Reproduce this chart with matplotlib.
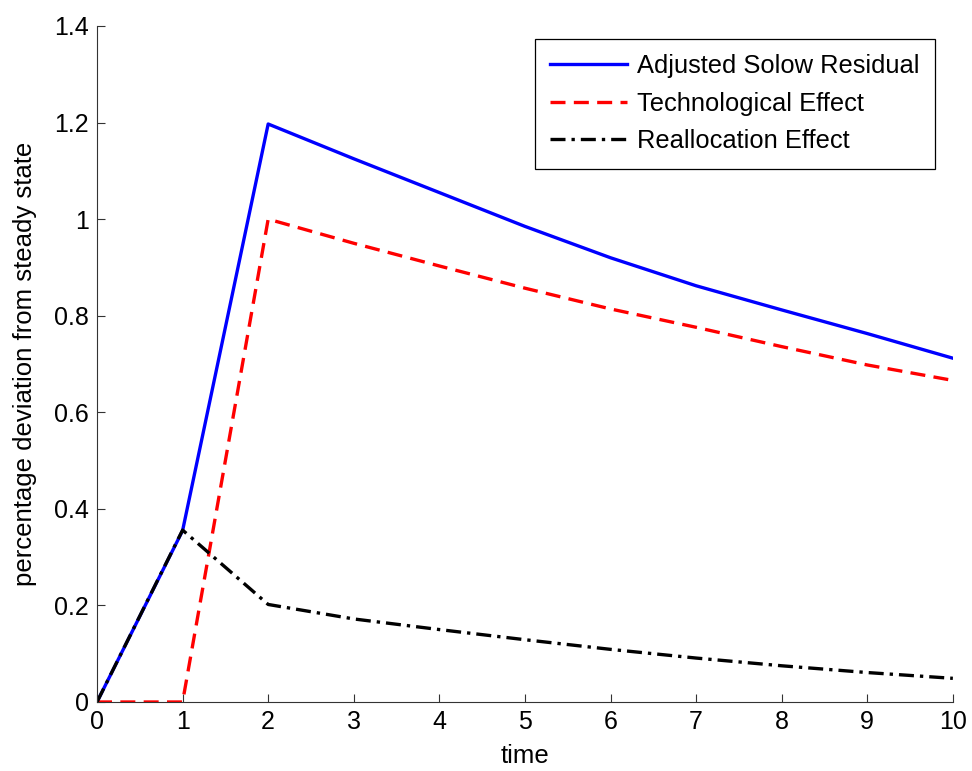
import matplotlib
matplotlib.use("Agg")
import matplotlib.pyplot as plt

# time periods and impulse responses (percentage deviation)
time = [0, 1, 2, 3, 4, 5, 6, 7, 8, 9, 10]
solow = [0.0, 0.355, 1.197, 1.125, 1.055, 0.985, 0.920, 0.862, 0.812, 0.763, 0.712]
tech = [0.0, 0.0, 1.0, 0.950, 0.903, 0.857, 0.814, 0.776, 0.736, 0.698, 0.666]
realloc = [0.0, 0.356, 0.202, 0.172, 0.150, 0.129, 0.109, 0.091, 0.075, 0.061, 0.049]

plt.rcParams["font.family"] = ["Liberation Sans", "DejaVu Sans"]
plt.rcParams["font.size"] = 18

fig = plt.figure(figsize=(9.72, 7.71), dpi=100)
ax = fig.add_axes([0.0998, 0.0895, 0.8805, 0.8768])

ax.plot(time, solow, color="#0000ff", lw=2.4, label="Adjusted Solow Residual")
ax.plot(time, tech, color="#ff0000", lw=2.4, dashes=(4.5, 2.5), label="Technological Effect")
ax.plot(time, realloc, color="black", lw=2.4, dashes=(4.5, 1.8, 1, 1.8), label="Reallocation Effect")

ax.set_xlim(0, 10)
ax.set_ylim(0, 1.4)
ax.set_xticks(range(0, 11))
ax.set_yticks([0, 0.2, 0.4, 0.6, 0.8, 1.0, 1.2, 1.4])
ax.set_yticklabels(["0", "0.2", "0.4", "0.6", "0.8", "1", "1.2", "1.4"])
ax.spines["top"].set_visible(False)
ax.spines["right"].set_visible(False)
ax.spines["left"].set_color("#333333")
ax.spines["bottom"].set_color("#333333")
ax.tick_params(direction="in", length=6, width=0.8, color="#333333", pad=6)

ax.set_xlabel("time", labelpad=7, fontsize=18.5)
ax.set_ylabel("percentage deviation from steady state", labelpad=12, fontsize=18.5)

leg = ax.legend(loc="upper right", bbox_to_anchor=(0.979, 0.981), fancybox=False,
                edgecolor="black", framealpha=1, handlelength=3.0, borderpad=0.6,
                labelspacing=0.53, handletextpad=0.4, borderaxespad=0, fontsize=18.4)
leg.get_frame().set_linewidth(0.9)

plt.savefig("out.png", dpi=100)
